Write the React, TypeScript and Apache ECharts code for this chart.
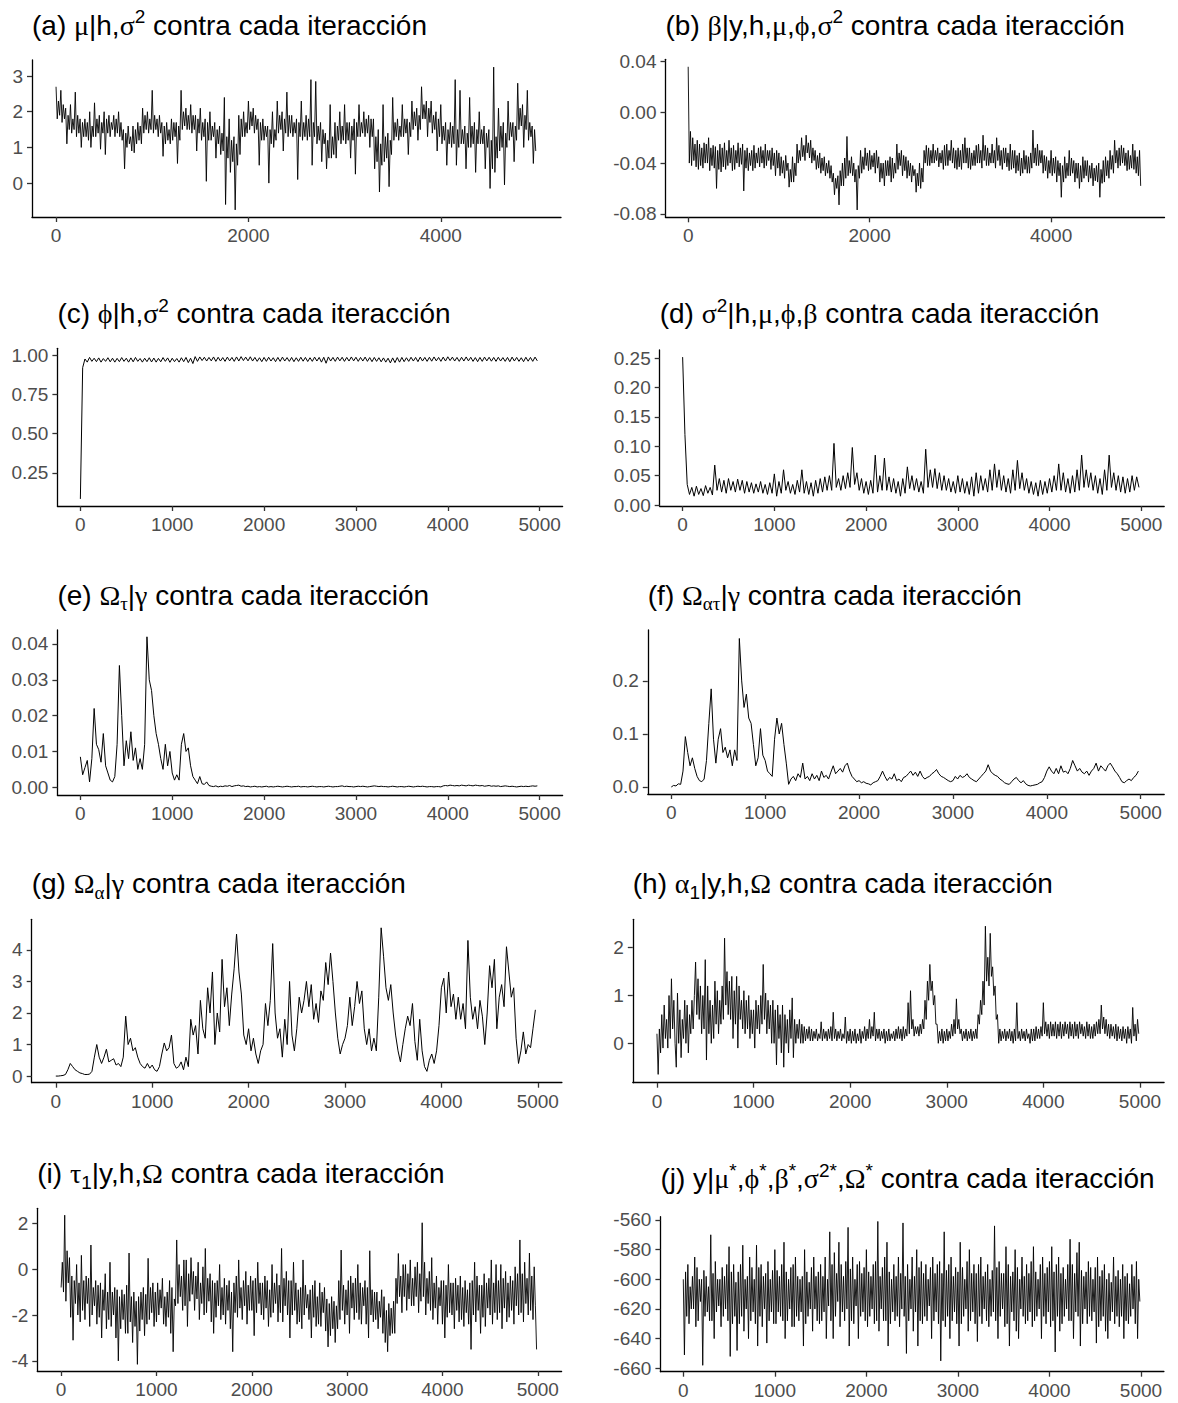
import React, { useEffect, useRef } from "react";
import * as echarts from "echarts";

// Samples.
// Fine traces: one value every 12.5 iterations (400 values); coarse traces: every 25 iterations (200 values).
const STEP_FINE = 12.5;
const STEP_COARSE = 25;

const traceA = [
  2.7, 1.8, 2.3, 1.9, 2.6, 1.7, 2.2, 1.8, 2.1, 1.1, 1.9, 1.5, 2.2, 1.4, 1.8, 1.5,
  2.55, 1.3, 1.9, 1.4, 1.8, 1.0, 1.7, 1.3, 1.8, 1.3, 1.7, 1.2, 2.0, 1.0, 1.6, 1.3,
  2.25, 1.3, 1.8, 1.4, 1.9, 0.95, 1.7, 1.4, 2.0, 0.8, 1.8, 1.4, 1.9, 1.3, 1.7, 1.5,
  1.9, 1.3, 1.8, 1.4, 2.0, 1.3, 1.7, 1.2, 1.5, 0.4, 1.4, 1.0, 1.6, 1.1, 1.3, 0.9,
  1.6, 0.85, 1.5, 1.1, 1.7, 1.2, 1.6, 1.1, 2.1, 1.4, 1.9, 1.5, 2.0, 1.4, 1.8, 1.5,
  2.6, 1.4, 1.9, 1.5, 1.8, 1.3, 1.9, 1.4, 1.7, 0.75, 1.6, 1.1, 1.7, 1.2, 1.5, 1.1,
  1.8, 1.2, 1.7, 1.3, 1.7, 0.55, 1.6, 1.2, 2.6, 1.5, 2.0, 1.6, 2.1, 1.5, 1.9, 1.5,
  2.2, 1.4, 1.9, 1.5, 1.9, 0.9, 1.8, 1.4, 2.1, 1.2, 1.7, 1.3, 1.8, 0.05, 1.7, 1.2,
  2.0, 1.2, 1.6, 1.3, 1.7, 0.7, 1.5, 1.1, 1.6, 0.8, 1.4, 0.9, 2.4, -0.6, 1.3, 0.7,
  1.8, 0.3, 1.2, 0.6, 1.3, -0.75, 1.1, 0.5, 1.9, 0.8, 1.8, 1.3, 2.0, 1.3, 1.7, 1.4,
  2.3, 1.5, 2.0, 1.6, 2.1, 1.4, 1.9, 1.5, 1.8, 0.5, 1.7, 1.2, 1.8, 1.2, 1.6, 1.3,
  1.6, 0.0, 1.5, 1.1, 2.0, 1.0, 1.5, 1.2, 2.3, 1.4, 1.9, 1.5, 2.0, 0.9, 1.8, 1.4,
  2.55, 1.3, 1.9, 1.4, 1.9, 1.3, 1.7, 1.4, 1.8, 0.1, 1.7, 1.3, 2.3, 1.2, 1.7, 1.3,
  1.9, 1.2, 1.8, 1.3, 2.9, 0.5, 1.7, 1.3, 2.85, 1.1, 1.6, 1.2, 1.7, 0.6, 1.5, 1.1,
  1.4, 0.4, 1.2, 0.7, 2.2, 0.7, 1.3, 0.8, 1.7, 0.7, 1.6, 1.2, 2.0, 1.1, 1.6, 1.2,
  2.2, 1.1, 1.7, 1.2, 1.7, 0.7, 1.6, 1.2, 1.8, 0.25, 1.7, 1.3, 2.2, 1.3, 1.7, 1.4,
  2.0, 1.3, 1.8, 1.4, 1.9, 1.0, 1.8, 1.3, 1.8, 0.4, 1.3, 0.6, 1.5, -0.25, 1.1, 0.5,
  2.2, 0.6, 1.3, 0.7, 1.4, -0.1, 1.2, 0.8, 2.4, 1.2, 1.7, 1.3, 1.8, 1.2, 1.6, 1.3,
  2.2, 1.3, 1.8, 1.4, 1.8, 0.8, 1.7, 1.3, 2.3, 1.5, 2.0, 1.6, 2.1, 1.2, 1.9, 1.5,
  2.7, 1.8, 2.2, 1.8, 2.3, 1.3, 2.1, 1.7, 2.3, 1.4, 1.9, 1.5, 2.0, 0.9, 1.8, 1.3,
  2.2, 1.1, 1.6, 1.2, 1.7, 0.5, 1.5, 1.1, 1.7, 1.0, 1.6, 1.1, 2.9, 0.5, 1.5, 1.0,
  2.6, 1.1, 1.5, 1.1, 1.6, 0.4, 1.4, 1.0, 2.4, 1.0, 1.6, 1.1, 1.7, 0.3, 1.5, 1.1,
  2.0, 1.1, 1.5, 1.1, 1.6, 0.4, 1.4, 1.0, 1.5, -0.15, 1.2, 0.4, 3.25, 0.3, 1.3, 0.7,
  2.1, 0.9, 1.6, 1.0, 1.7, -0.05, 1.4, 1.0, 2.3, 1.2, 1.7, 1.3, 1.7, 0.6, 1.6, 1.2,
  2.8, 1.5, 2.1, 1.6, 2.2, 1.0, 1.9, 1.5, 2.6, 1.2, 1.7, 1.3, 1.6, 0.55, 1.5, 0.9,
];

const traceB = [
  0.036, -0.04, -0.015, -0.042, -0.02, -0.038, -0.025, -0.043, -0.022, -0.045, -0.025, -0.042, -0.028, -0.044, -0.024, -0.04,
  -0.025, -0.04, -0.02, -0.046, -0.028, -0.042, -0.026, -0.044, -0.027, -0.06, -0.03, -0.045, -0.025, -0.047, -0.028, -0.043,
  -0.024, -0.045, -0.03, -0.042, -0.022, -0.04, -0.028, -0.046, -0.026, -0.045, -0.03, -0.04, -0.024, -0.043, -0.028, -0.041,
  -0.025, -0.062, -0.03, -0.044, -0.028, -0.046, -0.032, -0.042, -0.03, -0.046, -0.026, -0.044, -0.032, -0.04, -0.028, -0.043,
  -0.027, -0.04, -0.03, -0.044, -0.025, -0.042, -0.03, -0.038, -0.03, -0.045, -0.028, -0.042, -0.032, -0.05, -0.03, -0.044,
  -0.032, -0.05, -0.035, -0.048, -0.038, -0.052, -0.034, -0.046, -0.04, -0.059, -0.045, -0.055, -0.035, -0.055, -0.04, -0.05,
  -0.025, -0.04, -0.03, -0.038, -0.02, -0.035, -0.026, -0.038, -0.018, -0.032, -0.024, -0.036, -0.022, -0.04, -0.028, -0.038,
  -0.03, -0.045, -0.034, -0.044, -0.032, -0.048, -0.036, -0.046, -0.035, -0.05, -0.04, -0.048, -0.038, -0.052, -0.042, -0.055,
  -0.048, -0.065, -0.052, -0.06, -0.05, -0.073, -0.046, -0.058, -0.04, -0.058, -0.036, -0.052, -0.019, -0.05, -0.038, -0.048,
  -0.035, -0.05, -0.04, -0.055, -0.045, -0.077, -0.042, -0.052, -0.03, -0.048, -0.035, -0.045, -0.028, -0.042, -0.032, -0.046,
  -0.03, -0.045, -0.034, -0.043, -0.032, -0.048, -0.03, -0.044, -0.035, -0.055, -0.04, -0.052, -0.04, -0.058, -0.038, -0.05,
  -0.038, -0.05, -0.035, -0.055, -0.036, -0.052, -0.04, -0.048, -0.025, -0.045, -0.032, -0.042, -0.03, -0.05, -0.034, -0.046,
  -0.035, -0.052, -0.038, -0.05, -0.04, -0.055, -0.042, -0.05, -0.045, -0.063, -0.048, -0.058, -0.04, -0.06, -0.044, -0.055,
  -0.03, -0.04, -0.026, -0.042, -0.028, -0.042, -0.03, -0.04, -0.025, -0.04, -0.03, -0.038, -0.028, -0.043, -0.032, -0.04,
  -0.03, -0.045, -0.026, -0.042, -0.025, -0.042, -0.03, -0.038, -0.022, -0.04, -0.028, -0.044, -0.03, -0.045, -0.028, -0.043,
  -0.03, -0.045, -0.025, -0.04, -0.02, -0.04, -0.028, -0.044, -0.028, -0.045, -0.032, -0.042, -0.03, -0.042, -0.026, -0.04,
  -0.025, -0.04, -0.03, -0.044, -0.018, -0.038, -0.026, -0.042, -0.028, -0.042, -0.032, -0.04, -0.025, -0.04, -0.03, -0.044,
  -0.02, -0.038, -0.026, -0.042, -0.03, -0.045, -0.028, -0.04, -0.028, -0.043, -0.032, -0.046, -0.025, -0.045, -0.03, -0.044,
  -0.03, -0.048, -0.034, -0.046, -0.032, -0.05, -0.036, -0.048, -0.03, -0.045, -0.034, -0.048, -0.035, -0.048, -0.032, -0.044,
  -0.014, -0.04, -0.028, -0.042, -0.025, -0.042, -0.03, -0.04, -0.03, -0.048, -0.034, -0.046, -0.035, -0.052, -0.038, -0.048,
  -0.03, -0.05, -0.036, -0.048, -0.035, -0.055, -0.038, -0.05, -0.04, -0.067, -0.042, -0.055, -0.035, -0.052, -0.04, -0.05,
  -0.03, -0.05, -0.036, -0.048, -0.038, -0.055, -0.04, -0.052, -0.04, -0.06, -0.042, -0.055, -0.035, -0.052, -0.038, -0.05,
  -0.038, -0.055, -0.042, -0.052, -0.04, -0.058, -0.044, -0.054, -0.042, -0.055, -0.04, -0.067, -0.045, -0.056, -0.038, -0.055,
  -0.035, -0.05, -0.038, -0.052, -0.03, -0.045, -0.034, -0.048, -0.022, -0.04, -0.03, -0.044, -0.028, -0.042, -0.026, -0.04,
  -0.028, -0.042, -0.032, -0.046, -0.03, -0.045, -0.034, -0.044, -0.025, -0.045, -0.03, -0.048, -0.035, -0.05, -0.03, -0.058,
];

const traceC = [
  0.085, 0.92, 0.975, 0.955, 0.985, 0.96, 0.98, 0.958, 0.982, 0.955,
  0.978, 0.96, 0.983, 0.957, 0.98, 0.955, 0.979, 0.958, 0.984, 0.96,
  0.98, 0.955, 0.982, 0.957, 0.985, 0.96, 0.978, 0.955, 0.98, 0.958,
  0.983, 0.956, 0.981, 0.955, 0.979, 0.957, 0.984, 0.96, 0.982, 0.954,
  0.98, 0.958, 0.978, 0.955, 0.983, 0.958, 0.985, 0.952, 0.98, 0.946,
  0.99, 0.96, 0.988, 0.965, 0.986, 0.962, 0.985, 0.963, 0.988, 0.96,
  0.986, 0.962, 0.984, 0.96, 0.987, 0.963, 0.985, 0.96, 0.988, 0.962,
  0.99, 0.965, 0.987, 0.963, 0.989, 0.962, 0.985, 0.96, 0.983, 0.958,
  0.985, 0.96, 0.986, 0.962, 0.983, 0.958, 0.985, 0.96, 0.987, 0.962,
  0.984, 0.96, 0.985, 0.958, 0.983, 0.96, 0.986, 0.961, 0.985, 0.959,
  0.983, 0.96, 0.987, 0.962, 0.985, 0.955, 0.986, 0.948, 0.988, 0.962,
  0.985, 0.96, 0.987, 0.963, 0.986, 0.96, 0.985, 0.962, 0.988, 0.963,
  0.986, 0.96, 0.985, 0.962, 0.987, 0.96, 0.984, 0.958, 0.985, 0.96,
  0.983, 0.957, 0.982, 0.955, 0.98, 0.95, 0.982, 0.952, 0.984, 0.955,
  0.985, 0.958, 0.983, 0.96, 0.986, 0.962, 0.985, 0.958, 0.987, 0.962,
  0.985, 0.96, 0.986, 0.961, 0.988, 0.963, 0.985, 0.96, 0.987, 0.962,
  0.989, 0.965, 0.987, 0.962, 0.985, 0.96, 0.986, 0.962, 0.988, 0.963,
  0.986, 0.96, 0.984, 0.958, 0.985, 0.96, 0.987, 0.963, 0.986, 0.961,
  0.985, 0.96, 0.986, 0.962, 0.984, 0.96, 0.985, 0.958, 0.987, 0.962,
  0.985, 0.96, 0.983, 0.958, 0.986, 0.961, 0.985, 0.96, 0.987, 0.963,
];

const traceD = [
  0.252, 0.12, 0.035, 0.018, 0.03, 0.015, 0.032, 0.018, 0.028, 0.016,
  0.033, 0.02, 0.03, 0.017, 0.068, 0.025, 0.045, 0.022, 0.042, 0.02,
  0.045, 0.025, 0.04, 0.022, 0.044, 0.025, 0.042, 0.02, 0.04, 0.022,
  0.038, 0.02, 0.036, 0.022, 0.04, 0.02, 0.035, 0.018, 0.038, 0.02,
  0.053, 0.015, 0.04, 0.02, 0.06, 0.025, 0.04, 0.02, 0.035, 0.018,
  0.042, 0.022, 0.06, 0.02, 0.04, 0.018, 0.038, 0.015, 0.042, 0.02,
  0.045, 0.022, 0.048, 0.025, 0.05, 0.025, 0.105, 0.03, 0.045, 0.025,
  0.05, 0.028, 0.055, 0.03, 0.098, 0.035, 0.055, 0.025, 0.045, 0.02,
  0.04, 0.018, 0.042, 0.02, 0.085, 0.022, 0.05, 0.025, 0.08, 0.025,
  0.048, 0.022, 0.045, 0.02, 0.04, 0.015, 0.045, 0.02, 0.065, 0.028,
  0.05, 0.025, 0.045, 0.022, 0.04, 0.02, 0.095, 0.03, 0.06, 0.03,
  0.062, 0.028, 0.055, 0.025, 0.05, 0.025, 0.045, 0.022, 0.04, 0.02,
  0.05, 0.022, 0.045, 0.02, 0.04, 0.018, 0.048, 0.015, 0.055, 0.02,
  0.05, 0.025, 0.045, 0.022, 0.06, 0.025, 0.07, 0.03, 0.06, 0.025,
  0.05, 0.022, 0.045, 0.02, 0.06, 0.025, 0.076, 0.028, 0.055, 0.025,
  0.045, 0.02, 0.04, 0.018, 0.038, 0.015, 0.042, 0.018, 0.04, 0.02,
  0.045, 0.022, 0.05, 0.025, 0.07, 0.025, 0.055, 0.022, 0.045, 0.02,
  0.05, 0.022, 0.06, 0.025, 0.085, 0.03, 0.06, 0.03, 0.055, 0.025,
  0.05, 0.02, 0.045, 0.018, 0.06, 0.025, 0.085, 0.03, 0.055, 0.025,
  0.05, 0.022, 0.048, 0.02, 0.045, 0.022, 0.05, 0.025, 0.048, 0.03,
];

const traceE = [
  0.0085, 0.0035, 0.0055, 0.0075, 0.0015, 0.008, 0.022, 0.012, 0.0105, 0.007,
  0.015, 0.006, 0.004, 0.002, 0.0015, 0.003, 0.012, 0.034, 0.02, 0.006,
  0.013, 0.008, 0.0155, 0.0075, 0.011, 0.005, 0.008, 0.005, 0.012, 0.042,
  0.03, 0.027, 0.02, 0.015, 0.012, 0.008, 0.005, 0.012, 0.006, 0.01,
  0.004, 0.002, 0.0035, 0.002, 0.012, 0.015, 0.01, 0.011, 0.006, 0.003,
  0.002, 0.001, 0.003, 0.001, 0.0008, 0.0015, 0.0005, 0.0003, 0.0002, 0.0004,
  0.0001, 0.0003, 0.0002, 0.0004, 0.0003, 0.0005, 0.0002, 0.0004, 0.0005, 0.0006,
  0.0003, 0.0004, 0.0002, 0.0003, 0.0001, 0.0002, 0.0003, 0.0001, 0.0002, 0.0001,
  0.0002, 0.0003, 0.0001, 0.0002, 0.0001, 0.0002, 0.0003, 0.0002, 0.0001, 0.0002,
  0.0003, 0.0002, 0.0001, 0.0002, 0.0002, 0.0003, 0.0001, 0.0002, 0.0002, 0.0001,
  0.0002, 0.0003, 0.0002, 0.0001, 0.0002, 0.0002, 0.0001, 0.0002, 0.0003, 0.0002,
  0.0001, 0.0002, 0.0002, 0.0003, 0.0004, 0.0002, 0.0003, 0.0002, 0.0002, 0.0001,
  0.0002, 0.0003, 0.0002, 0.0003, 0.0002, 0.0001, 0.0002, 0.0003, 0.0004, 0.0003,
  0.0002, 0.0003, 0.0002, 0.0002, 0.0001, 0.0002, 0.0003, 0.0002, 0.0001, 0.0002,
  0.0002, 0.0001, 0.0002, 0.0003, 0.0002, 0.0001, 0.0002, 0.0003, 0.0002, 0.0003,
  0.0002, 0.0001, 0.0002, 0.0002, 0.0001, 0.0002, 0.0002, 0.0001, 0.0004, 0.0005,
  0.0004, 0.0006, 0.0005, 0.0004, 0.0005, 0.0004, 0.0006, 0.0005, 0.0004, 0.0006,
  0.0005, 0.0004, 0.0006, 0.0005, 0.0004, 0.0005, 0.0003, 0.0004, 0.0005, 0.0003,
  0.0004, 0.0003, 0.0004, 0.0002, 0.0003, 0.0004, 0.0003, 0.0002, 0.0003, 0.0002,
  0.0001, 0.0002, 0.0003, 0.0002, 0.0003, 0.0002, 0.0003, 0.0004, 0.0003, 0.0004,
];

const traceF = [
  0.0, 0.003, 0.002, 0.006, 0.005, 0.03, 0.095, 0.065, 0.04, 0.055,
  0.035, 0.02, 0.012, 0.01, 0.015, 0.05, 0.12, 0.185, 0.09, 0.045,
  0.09, 0.11, 0.065, 0.075, 0.055, 0.07, 0.04, 0.07, 0.05, 0.28,
  0.2, 0.15, 0.175, 0.13, 0.12, 0.08, 0.04, 0.055, 0.11, 0.06,
  0.05, 0.03, 0.025, 0.02, 0.09, 0.13, 0.1, 0.12, 0.08, 0.045,
  0.005, 0.015, 0.02, 0.012, 0.025, 0.018, 0.045, 0.015, 0.02, 0.012,
  0.025, 0.015, 0.022, 0.012, 0.03, 0.018, 0.022, 0.015, 0.028, 0.04,
  0.025, 0.03, 0.035, 0.028, 0.04, 0.045, 0.03, 0.02, 0.015, 0.01,
  0.012, 0.008, 0.01, 0.007, 0.006, 0.004, 0.008, 0.01, 0.012, 0.02,
  0.03, 0.02, 0.012, 0.018, 0.015, 0.025, 0.012, 0.015, 0.01, 0.018,
  0.02, 0.025, 0.03, 0.022, 0.028, 0.02, 0.03, 0.02, 0.015, 0.018,
  0.02, 0.025, 0.028, 0.033, 0.025, 0.02, 0.018, 0.015, 0.012, 0.01,
  0.012, 0.02, 0.015, 0.022, 0.018, 0.02, 0.025, 0.018, 0.015, 0.012,
  0.01, 0.015, 0.02, 0.025, 0.03, 0.042, 0.03, 0.025, 0.022, 0.02,
  0.015, 0.012, 0.008, 0.006, 0.005, 0.01, 0.015, 0.018, 0.012, 0.008,
  0.012, 0.006, 0.003, 0.002, 0.003, 0.004, 0.005, 0.008, 0.01, 0.018,
  0.03, 0.038, 0.03, 0.025, 0.035, 0.025, 0.04, 0.028, 0.03, 0.025,
  0.035, 0.05, 0.04, 0.03, 0.035, 0.028, 0.025, 0.03, 0.022, 0.03,
  0.035, 0.045, 0.03, 0.04, 0.035, 0.03, 0.04, 0.045, 0.038, 0.03,
  0.025, 0.018, 0.01, 0.008, 0.012, 0.015, 0.012, 0.018, 0.022, 0.03,
];

const traceG = [
  0.0, 0.0, 0.01, 0.02, 0.05, 0.2, 0.4, 0.3, 0.2, 0.15,
  0.1, 0.08, 0.05, 0.05, 0.06, 0.15, 0.6, 1.0, 0.6, 0.4,
  0.6, 0.85, 0.45, 0.5, 0.55, 0.35, 0.4, 0.3, 0.6, 1.9,
  1.0, 1.2, 0.8, 0.9, 0.6, 0.4, 0.3, 0.25, 0.4, 0.25,
  0.35, 0.2, 0.15, 0.3, 0.7, 1.05, 0.8, 0.9, 1.3, 0.4,
  0.25, 0.3, 0.45, 0.2, 0.6, 0.3, 1.8, 1.3, 1.6, 0.7,
  2.4, 1.5, 1.2, 2.8, 2.0, 3.3, 1.0, 2.0, 1.4, 3.7,
  2.2, 2.8, 1.6, 2.6, 3.4, 4.5, 3.3, 2.6, 1.3, 1.0,
  1.5, 0.8, 1.2, 0.7, 0.4, 0.8, 1.0, 2.3, 1.6, 2.4,
  4.2, 2.0, 1.2, 1.5, 0.6, 1.8, 1.0, 3.0, 1.3, 0.8,
  1.5, 2.5, 2.0, 2.4, 3.0, 2.2, 2.9, 1.8, 2.3, 1.7,
  2.7, 2.4, 3.6, 2.9, 3.9, 3.0, 2.0, 1.2, 0.7, 1.0,
  1.2, 1.6, 2.5, 1.6, 2.2, 3.0, 2.3, 2.7, 1.5, 1.0,
  1.5, 0.8, 1.2, 0.8, 2.5, 4.7, 3.8, 2.8, 2.4, 2.9,
  2.0, 1.3, 0.8, 0.45, 1.0, 1.5, 1.9, 1.6, 2.3, 1.1,
  0.5, 1.8, 0.8, 0.3, 0.15, 0.5, 0.7, 0.4, 0.8, 1.6,
  2.8, 3.1, 2.0, 3.3, 2.2, 2.6, 1.8, 2.5, 1.8, 2.3,
  1.5, 4.3, 2.5, 1.8, 2.2, 1.5, 2.4, 1.9, 1.0, 2.0,
  3.5, 2.8, 3.7, 1.5, 2.5, 2.9, 2.2, 4.1, 3.3, 2.5,
  2.8, 1.2, 0.4, 0.8, 1.4, 0.7, 1.0, 0.9, 1.5, 2.1,
];

const traceH = [
  0.2, -0.65, 0.3, -0.2, 0.6, -0.1, 0.8, 0.1, 0.5, -0.1, 1.0, 0.1, 1.35, 0.3, 0.9, 0.0,
  -0.5, 1.05, 0.0, 0.7, -0.3, 0.5, 0.1, 0.9, 0.0, 0.8, -0.2, 0.6, 0.2, 0.9, 0.3, 1.0,
  1.7, 0.6, 1.35, 0.5, 1.2, 0.2, 1.0, 0.3, 1.75, -0.35, 1.2, 0.2, 0.9, 0.0, 0.8, 0.1,
  1.3, 0.4, 1.1, 0.2, 0.9, 0.4, 1.2, 0.5, 2.2, 0.8, 1.5, 0.6, 1.3, 0.5, 1.4, 0.1,
  1.1, 0.4, 1.4, -0.1, 1.2, 0.5, 0.9, 0.3, 1.1, 0.2, 0.9, 0.3, 1.0, 0.1, 0.7, 0.2,
  0.7, -0.1, 0.9, 0.3, 0.8, 0.2, 1.0, 0.4, 1.65, 0.5, 1.05, 0.2, 0.9, 0.3, 0.8, 0.0,
  0.9, 0.0, 0.7, -0.45, 0.8, 0.1, 0.6, -0.2, 0.8, -0.5, 0.6, 0.0, 0.5, -0.2, 0.7, 0.1,
  0.95, -0.3, 0.5, 0.0, 0.4, 0.1, 0.5, 0.0, 0.4, 0.0, 0.35, 0.05, 0.3, 0.1, 0.35, 0.05,
  0.3, 0.05, 0.25, 0.1, 0.3, 0.05, 0.2, 0.1, 0.45, 0.05, 0.3, 0.1, 0.25, 0.05, 0.3, 0.1,
  0.35, 0.05, 0.65, 0.1, 0.3, 0.05, 0.25, 0.1, 0.3, 0.05, 0.2, 0.1, 0.55, 0.0, 0.25, 0.05,
  0.3, 0.0, 0.25, 0.05, 0.3, 0.0, 0.2, 0.05, 0.3, 0.0, 0.25, 0.1, 0.35, 0.05, 0.3, 0.1,
  0.5, 0.1, 0.35, 0.15, 0.65, 0.05, 0.3, 0.1, 0.3, 0.05, 0.25, 0.1, 0.3, 0.0, 0.25, 0.05,
  0.3, 0.05, 0.2, 0.1, 0.25, 0.05, 0.3, 0.1, 0.35, 0.1, 0.3, 0.05, 0.35, 0.1, 0.3, 0.15,
  0.85, 0.2, 1.1, 0.3, 0.5, 0.15, 0.35, 0.2, 0.35, 0.15, 0.4, 0.2, 0.5, 0.3, 0.9, 0.5,
  1.3, 0.9, 1.65, 1.1, 1.3, 0.8, 1.0, 0.4, 0.4, 0.0, 0.25, 0.05, 0.3, 0.0, 0.25, 0.05,
  0.3, 0.05, 0.25, 0.1, 0.4, 0.15, 0.5, 0.2, 0.93, 0.3, 0.5, 0.2, 0.3, 0.05, 0.25, 0.1,
  0.3, 0.05, 0.25, 0.1, 0.3, 0.05, 0.25, 0.1, 0.3, 0.1, 0.6, 0.4, 0.9, 0.6, 1.3, 0.8,
  2.45, 1.3, 1.8, 1.2, 2.3, 1.4, 1.6, 1.0, 1.2, 0.5, 0.6, 0.0, 0.3, 0.05, 0.25, 0.1,
  0.3, 0.05, 0.25, 0.1, 0.3, 0.05, 0.25, 0.0, 0.3, 0.05, 0.85, 0.1, 0.25, 0.05, 0.3, 0.1,
  0.25, 0.05, 0.3, 0.1, 0.2, 0.0, 0.3, 0.05, 0.3, 0.05, 0.35, 0.1, 0.3, 0.1, 0.35, 0.15,
  0.85, 0.2, 0.45, 0.15, 0.4, 0.1, 0.45, 0.15, 0.4, 0.15, 0.45, 0.1, 0.4, 0.15, 0.45, 0.1,
  0.4, 0.15, 0.45, 0.2, 0.4, 0.1, 0.45, 0.15, 0.4, 0.1, 0.45, 0.15, 0.4, 0.1, 0.45, 0.2,
  0.4, 0.15, 0.35, 0.1, 0.45, 0.15, 0.4, 0.1, 0.35, 0.1, 0.4, 0.15, 0.45, 0.2, 0.5, 0.2,
  0.8, 0.3, 0.55, 0.2, 0.5, 0.15, 0.4, 0.1, 0.4, 0.15, 0.35, 0.1, 0.4, 0.05, 0.35, 0.1,
  0.3, 0.05, 0.35, 0.1, 0.3, 0.0, 0.35, 0.1, 0.3, 0.0, 0.75, 0.15, 0.4, 0.05, 0.5, 0.2,
];

const traceI = [
  -0.8, 0.3, -1.0, 2.35, -1.4, 0.8, -0.6, 0.5, -2.1, -0.3, -3.1, -0.5, -1.5, 0.2, -2.0, -0.6,
  -2.3, 0.6, -1.8, -0.5, -2.2, -0.3, -1.5, -0.4, -2.5, 1.05, -2.0, -0.8, -1.6, -0.5, -2.4, -0.7,
  -2.1, -0.6, -3.0, -0.9, -1.8, -0.2, -2.6, -1.0, -2.2, 0.3, -2.5, -1.0, -2.0, -0.8, -3.0, -0.9,
  -4.0, -1.2, -2.6, -0.9, -2.2, -1.1, -2.8, -0.7, -2.8, 0.7, -2.3, -1.2, -3.2, -1.0, -2.5, -1.4,
  -4.15, -1.2, -2.7, -1.0, -2.2, -0.8, -2.9, -1.1, -2.4, 0.47, -2.2, -0.8, -1.9, -0.6, -2.5, -1.0,
  -2.3, -0.6, -2.0, -0.9, -1.7, -0.4, -2.4, -1.2, -2.5, -1.0, -2.1, -0.5, -2.8, -0.8, -3.6, -1.3,
  -1.6, 1.27, -1.5, 0.2, -1.2, -0.3, -1.8, 0.4, -1.6, 0.4, -2.5, -0.2, -1.4, 0.5, -1.1, -0.1,
  -1.8, -0.3, -1.3, 0.3, -2.2, -0.6, -1.5, 0.1, -2.0, 0.9, -1.9, -0.4, -1.4, -0.2, -2.3, -0.5,
  -2.8, -0.6, -2.1, -0.5, -1.6, 0.2, -2.2, -0.8, -2.0, -0.4, -2.4, -0.7, -1.8, -0.5, -2.6, -1.0,
  -3.6, -0.6, -1.9, -0.3, -2.1, 0.4, -1.7, -0.8, -2.2, -0.5, -1.6, -0.1, -2.4, -0.7, -1.8, -0.3,
  -1.8, -0.5, -2.9, -0.4, -1.9, 0.3, -1.5, -0.6, -2.0, -0.6, -2.2, -0.3, -1.7, -0.5, -2.5, -0.9,
  -2.1, 0.2, -1.9, -0.6, -1.5, -0.2, -2.3, -0.7, -1.9, 0.9, -2.3, -0.4, -1.6, -0.1, -2.0, -0.5,
  -3.0, -0.5, -2.0, 0.3, -1.8, -0.6, -2.4, -0.9, -2.3, -0.8, -2.6, 0.4, -2.0, -0.7, -1.7, -1.1,
  -2.2, -0.9, -3.0, -0.7, -2.1, -0.5, -2.5, -1.2, -2.4, -0.6, -2.5, -1.0, -1.9, -0.8, -2.7, -1.3,
  -3.39, -1.5, -2.9, -1.2, -2.6, -1.4, -3.2, -1.6, -2.6, -0.5, -2.2, 0.83, -1.8, -0.7, -2.4, -0.9,
  -2.0, -0.5, -2.8, -0.3, -1.7, -0.6, -2.2, -0.4, -1.9, 0.2, -2.2, -0.6, -2.4, -0.8, -1.6, -0.5,
  -2.4, -0.8, -3.0, 0.8, -2.0, -0.9, -2.3, -1.0, -2.2, -1.0, -2.6, -1.4, -2.1, -0.9, -2.8, -1.2,
  -3.2, -1.8, -3.6, -1.5, -2.9, -1.7, -2.8, -1.4, -2.8, -0.4, -1.5, 0.68, -1.2, -0.3, -1.9, 0.2,
  -1.2, 0.2, -1.8, -0.2, -1.3, 0.4, -1.6, -0.4, -1.6, 0.1, -1.2, 0.3, -1.9, -0.2, -1.4, 2.02,
  -1.2, 0.3, -2.0, -0.4, -1.5, -0.1, -1.8, 0.5, -2.2, -0.6, -1.7, -0.3, -2.4, -0.8, -1.6, -0.5,
  -2.4, -0.5, -3.0, -0.7, -2.1, 0.2, -1.9, -0.6, -2.0, -0.6, -2.6, -0.4, -1.8, -0.7, -2.3, -0.3,
  -2.2, -0.8, -2.5, -0.5, -1.9, -0.9, -2.4, -0.6, -3.5, -0.5, -2.0, 0.3, -2.3, -0.3, -1.8, -0.7,
  -2.8, -0.7, -2.1, -0.2, -2.5, -0.6, -1.7, -0.4, -2.0, 0.4, -2.4, -0.6, -1.9, 0.2, -2.2, -0.5,
  -1.9, 0.2, -2.6, -0.4, -1.7, -0.1, -2.3, -0.6, -2.1, -0.3, -1.8, -0.5, -2.4, 0.1, -1.6, -0.2,
  -2.0, 1.27, -1.9, -0.2, -2.3, 0.3, -1.5, -0.4, -2.0, 0.7, -1.8, -0.3, -2.2, 0.1, -1.6, -3.5,
];

const traceJ = [
  -600, -651, -595, -625, -590, -630, -605, -620, -598, -620, -585, -632, -592, -628, -600, -615,
  -600, -658, -594, -625, -598, -622, -605, -628, -570, -628, -596, -640, -588, -622, -600, -618,
  -600, -632, -592, -625, -598, -620, -590, -628, -578, -652, -595, -630, -590, -625, -602, -648,
  -595, -630, -590, -625, -577, -635, -600, -620, -598, -640, -585, -628, -592, -622, -600, -630,
  -577, -645, -592, -625, -590, -632, -598, -620, -596, -643, -588, -628, -600, -622, -594, -630,
  -580, -630, -594, -622, -598, -625, -590, -628, -575, -640, -595, -628, -600, -620, -592, -632,
  -590, -632, -585, -625, -598, -628, -600, -622, -598, -645, -580, -630, -595, -625, -602, -620,
  -592, -635, -585, -620, -598, -628, -595, -630, -590, -628, -598, -622, -585, -640, -600, -618,
  -568, -628, -590, -640, -582, -625, -596, -615, -575, -632, -590, -622, -598, -628, -588, -620,
  -565, -645, -593, -628, -585, -630, -600, -618, -590, -640, -588, -625, -596, -622, -592, -628,
  -580, -632, -595, -625, -598, -620, -590, -630, -588, -628, -561, -635, -598, -620, -592, -628,
  -585, -628, -575, -645, -595, -630, -600, -622, -590, -628, -598, -625, -585, -632, -596, -620,
  -562, -625, -598, -650, -590, -628, -600, -620, -585, -635, -598, -622, -580, -645, -592, -628,
  -588, -630, -596, -625, -590, -628, -600, -618, -592, -640, -585, -628, -596, -622, -590, -630,
  -588, -655, -596, -628, -568, -632, -594, -625, -590, -640, -585, -628, -598, -622, -592, -630,
  -595, -645, -575, -630, -592, -625, -600, -620, -588, -635, -580, -628, -596, -622, -590, -630,
  -596, -642, -590, -625, -585, -630, -598, -620, -595, -628, -590, -632, -600, -625, -594, -622,
  -564, -628, -592, -640, -588, -625, -596, -620, -596, -632, -578, -630, -590, -645, -598, -622,
  -595, -628, -580, -635, -592, -640, -600, -620, -585, -625, -598, -630, -590, -628, -596, -622,
  -588, -632, -578, -628, -595, -625, -600, -620, -590, -640, -585, -625, -596, -630, -592, -622,
  -588, -632, -578, -628, -595, -649, -590, -625, -585, -635, -596, -630, -592, -625, -600, -620,
  -590, -628, -573, -628, -590, -640, -596, -622, -582, -625, -575, -645, -594, -630, -598, -620,
  -595, -630, -588, -625, -592, -628, -600, -622, -592, -643, -585, -632, -598, -628, -594, -625,
  -590, -635, -600, -640, -596, -628, -602, -622, -585, -630, -598, -625, -594, -632, -600, -625,
  -590, -640, -598, -628, -596, -630, -603, -625, -590, -620, -598, -630, -588, -640, -600, -615,
];

// Tick values
const xTicksWide = [0, 2000, 4000];
const xTicks = [0, 1000, 2000, 3000, 4000, 5000];
const yTicksA = [0, 1, 2, 3];
const yTicksB = [-0.08, -0.04, 0, 0.04];
const yTicksC = [0.25, 0.5, 0.75, 1.0];
const yTicksD = [0, 0.05, 0.1, 0.15, 0.2, 0.25];
const yTicksE = [0, 0.01, 0.02, 0.03, 0.04];
const yTicksF = [0, 0.1, 0.2];
const yTicksG = [0, 1, 2, 3, 4];
const yTicksH = [0, 1, 2];
const yTicksI = [-4, -2, 0, 2];
const yTicksJ = [-660, -640, -620, -600, -580, -560];

// Titles (rich text)
const REST = "{n| contra cada iteracción}";
const titleA = "{n|(a) }{g|μ}{n||h,}{g|σ}{sup|2}" + REST;
const titleB = "{n|(b) }{g|β}{n||y,h,}{g|μ}{n|,}{g|ϕ}{n|,}{g|σ}{sup|2}" + REST;
const titleC = "{n|(c) }{g|ϕ}{n||h,}{g|σ}{sup|2}" + REST;
const titleD = "{n|(d) }{g|σ}{sup|2}{n||h,}{g|μ}{n|,}{g|ϕ}{n|,}{g|β}" + REST;
const titleE = "{n|(e) }{g|Ω}{gsub|τ}{n||}{g|γ}" + REST;
const titleF = "{n|(f) }{g|Ω}{gsub|ατ}{n||}{g|γ}" + REST;
const titleG = "{n|(g) }{g|Ω}{gsub|α}{n||}{g|γ}" + REST;
const titleH = "{n|(h) }{g|α}{sub|1}{n||y,h,}{g|Ω}" + REST;
const titleI = "{n|(i) }{g|τ}{sub|1}{n||y,h,}{g|Ω}" + REST;
const titleJ =
  "{n|(j) y|}{g|μ}{sup|*}{n|,}{g|ϕ}{sup|*}{n|,}{g|β}{sup|*}{n|,}{g|σ}{sup|2*}{n|,}{g|Ω}{sup|*}" + REST;

// Layout: [left, top, width, height] of each panel, y range, title top
const panels = [
  { title: titleA, data: traceA, step: STEP_FINE, xt: xTicksWide, yt: yTicksA, dec: 0, y: [-0.95, 3.45], box: [32, 60, 529, 157], tTop: 7.3 },
  { title: titleB, data: traceB, step: STEP_FINE, xt: xTicksWide, yt: yTicksB, dec: 2, y: [-0.0828, 0.0419], box: [665.5, 59.3, 499, 158], tTop: 7.3 },
  { title: titleC, data: traceC, step: STEP_COARSE, xt: xTicks, yt: yTicksC, dec: 2, y: [0.04, 1.043], box: [57.4, 348.3, 505.2, 157.7], tTop: 295.6 },
  { title: titleD, data: traceD, step: STEP_COARSE, xt: xTicks, yt: yTicksD, dec: 2, y: [-0.0017, 0.2641], box: [659.7, 350, 504.5, 156], tTop: 295.6 },
  { title: titleE, data: traceE, step: STEP_COARSE, xt: xTicks, yt: yTicksE, dec: 2, y: [-0.00215, 0.0439], box: [57.4, 630, 505.2, 165], tTop: 577.3 },
  { title: titleF, data: traceF, step: STEP_COARSE, xt: xTicks, yt: yTicksF, dec: 1, y: [-0.0132, 0.296], box: [647.8, 630, 516.4, 164], tTop: 577.3 },
  { title: titleG, data: traceG, step: STEP_COARSE, xt: xTicks, yt: yTicksG, dec: 0, y: [-0.21, 4.97], box: [31.7, 919.3, 530.2, 163.4], tTop: 865.6 },
  { title: titleH, data: traceH, step: STEP_FINE, xt: xTicks, yt: yTicksH, dec: 0, y: [-0.824, 2.594], box: [632.8, 919.3, 531.3, 163.4], tTop: 865.6 },
  { title: titleI, data: traceI, step: STEP_FINE, xt: xTicks, yt: yTicksI, dec: 0, y: [-4.44, 2.65], box: [37.3, 1208.3, 524.3, 162.7], tTop: 1155.6 },
  { title: titleJ, data: traceJ, step: STEP_FINE, xt: xTicks, yt: yTicksJ, dec: 0, y: [-662.3, -557.8], box: [660.4, 1216.7, 503.5, 155], tTop: 1160.6 },
];

const SANS = "Liberation Sans";
const SERIF = "Liberation Serif";
const richStyles = {
  n: { fontFamily: SANS, fontSize: 28, lineHeight: 36, color: "#000", fontWeight: "normal" },
  g: { fontFamily: SERIF, fontSize: 28, lineHeight: 36, color: "#000", fontWeight: "normal" },
  sup: { fontFamily: SANS, fontSize: 19, lineHeight: 19, verticalAlign: "top", color: "#000", fontWeight: "normal" },
  sub: { fontFamily: SANS, fontSize: 19, lineHeight: 20, verticalAlign: "bottom", color: "#000", fontWeight: "normal" },
  gsub: { fontFamily: SERIF, fontSize: 19, lineHeight: 20, verticalAlign: "bottom", color: "#000", fontWeight: "normal" },
};

function buildOption() {
  const grid: any[] = [];
  const xAxis: any[] = [];
  const yAxis: any[] = [];
  const series: any[] = [];
  const title: any[] = [];
  panels.forEach((p, i) => {
    const [left, top, width, height] = p.box;
    grid.push({ left, top, width, height, containLabel: false, outerBoundsMode: "none" });
    const labelStyle = { color: "#4d4d4d", fontSize: 19, fontFamily: SANS };
    xAxis.push({
      gridIndex: i,
      type: "value",
      min: -250,
      max: 5250,
      axisLine: { show: true, onZero: false, lineStyle: { color: "#000", width: 1.3 } },
      axisTick: { show: true, length: 5, customValues: p.xt, lineStyle: { color: "#333", width: 1.3 } },
      axisLabel: { show: true, customValues: p.xt, margin: 9, ...labelStyle, formatter: (v: number) => String(v) },
      splitLine: { show: false },
    });
    yAxis.push({
      gridIndex: i,
      type: "value",
      min: p.y[0],
      max: p.y[1],
      axisLine: { show: true, onZero: false, lineStyle: { color: "#000", width: 1.3 } },
      axisTick: { show: true, length: 5, customValues: p.yt, lineStyle: { color: "#333", width: 1.3 } },
      axisLabel: {
        show: true,
        customValues: p.yt,
        margin: 9,
        ...labelStyle,
        formatter: (v: number) => Number(v).toFixed(p.dec),
      },
      splitLine: { show: false },
    });
    series.push({
      type: "line",
      xAxisIndex: i,
      yAxisIndex: i,
      data: p.data.map((v, k) => [k * p.step, v]),
      showSymbol: false,
      symbol: "none",
      silent: true,
      clip: true,
      lineStyle: { color: "#000", width: p.step === STEP_FINE ? 0.9 : 1.0 },
    });
    title.push({
      text: p.title,
      left: p.box[0],
      top: p.tTop,
      padding: 0,
      textStyle: {
        fontFamily: SANS,
        fontSize: 28,
        lineHeight: 36,
        fontWeight: "normal",
        color: "#000",
        rich: richStyles,
      },
    });
  });
  return {
    animation: false,
    backgroundColor: "#fff",
    title,
    grid,
    xAxis,
    yAxis,
    series,
  };
}

export default function App() {
  const ref = useRef<HTMLDivElement>(null);
  useEffect(() => {
    if (!ref.current) return;
    const chart = echarts.init(ref.current, null, { renderer: "svg" });
    chart.setOption(buildOption() as any);
    return () => chart.dispose();
  }, []);
  return (
    <div
      ref={ref}
      style={{ position: "absolute", left: 0, top: 0, width: 1178, height: 1403, background: "#fff" }}
    />
  );
}
